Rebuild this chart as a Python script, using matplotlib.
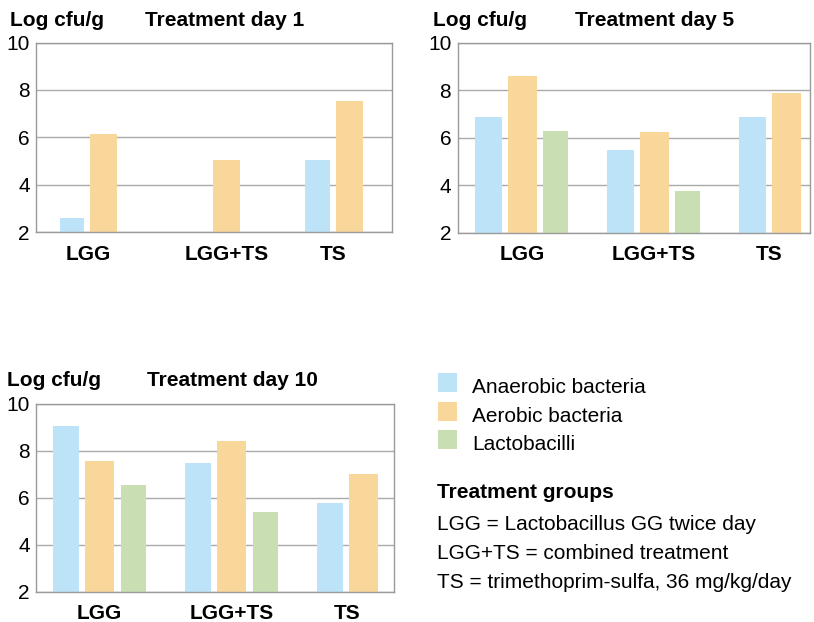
import numpy as np
import matplotlib
matplotlib.use("Agg")
import matplotlib.pyplot as plt
from matplotlib.patches import Rectangle

plt.rcParams['font.family'] = ['Liberation Sans', 'DejaVu Sans']

# data (log cfu/g), nan = no bar
groups = ["LGG", "LGG+TS", "TS"]
series = ["Anaerobic bacteria", "Aerobic bacteria", "Lactobacilli"]
colors = ["#bce3f7", "#f9d699", "#c9dfb3"]

day1_anaerobic = [2.58, np.nan, 5.03]
day1_aerobic = [6.14, 5.03, 7.54]
day1_lacto = [np.nan, np.nan, np.nan]

day5_anaerobic = [6.86, 5.49, 6.88]
day5_aerobic = [8.62, 6.26, 7.90]
day5_lacto = [6.30, 3.76, np.nan]

day10_anaerobic = [9.04, 7.47, 5.77]
day10_aerobic = [7.55, 8.40, 7.00]
day10_lacto = [6.53, 5.39, np.nan]

yticks = [2, 4, 6, 8, 10]
FS = 15

W, H = 814, 622
fig = plt.figure(figsize=(W / 100, H / 100), dpi=100)


def box(l, t, r, b):
    return [l / W, 1 - b / H, (r - l) / W, (b - t) / H]


def px(x, y):
    return x / W, 1 - y / H


def panel(rect, values, xlim, title, title_x, label_pad, title_pos):
    ax = fig.add_axes(rect)
    slot = 0.255
    widths = [0.2, 0.22, 0.19]
    x = np.arange(len(groups))
    centers = []
    for k, (vals, c) in enumerate(zip(values, colors)):
        v = np.array(vals, dtype=float)
        pos = x + (k - 1) * slot
        ok = ~np.isnan(v)
        ax.bar(pos[ok], v[ok] - 2, bottom=2, width=widths[k], color=c, zorder=2)
        centers.append(np.where(ok, pos, np.nan))
    centers = np.array(centers)
    ax.set_xlim(*xlim)
    ax.set_ylim(2, 10)
    ax.set_yticks(yticks)
    ax.set_yticklabels([str(t) for t in yticks], fontsize=FS)
    ax.tick_params(axis='y', length=0, pad=4.5)
    ax.yaxis.grid(True, color="#aaaaaa", linewidth=1.0, zorder=1)
    for s in ax.spines.values():
        s.set_color("#9a9a9a")
        s.set_linewidth(1.0)
    ax.set_xticks(np.nanmean(centers, axis=0))
    ax.set_xticklabels(groups, fontsize=FS, fontweight='bold')
    ax.tick_params(axis='x', length=0, pad=label_pad)
    tx, ty = title_pos
    fig.text(*px(tx, ty), "Log cfu/g", fontsize=FS, fontweight='bold', va='center')
    fig.text(*px(title_x, ty), title, fontsize=FS, fontweight='bold', va='center')
    return ax


panel(box(36, 42.5, 392, 232), [day1_anaerobic, day1_aerobic, day1_lacto],
      (-0.55, 2.35), "Treatment day 1", 145, 9, (10, 20))
panel(box(457.5, 43, 810, 232.5), [day5_anaerobic, day5_aerobic, day5_lacto],
      (-0.49, 2.18), "Treatment day 5", 575, 9, (433, 20))
panel(box(36, 403.5, 394, 591.5), [day10_anaerobic, day10_aerobic, day10_lacto],
      (-0.48, 2.23), "Treatment day 10", 147, 9, (7, 381))

# legend
leg_y = [382.5, 411, 439.5]
for name, c, y in zip(series, colors, leg_y):
    x0, y0 = px(438, y + 9.5)
    fig.add_artist(Rectangle((x0, y0), 19 / W, 19 / H, transform=fig.transFigure,
                             facecolor=c, edgecolor='none'))
    fig.text(*px(472, y + 5), name, fontsize=FS, va='center')

fig.text(*px(437, 493), "Treatment groups", fontsize=FS, fontweight='bold', va='center')
notes = ["LGG = Lactobacillus GG twice day",
         "LGG+TS = combined treatment",
         "TS = trimethoprim-sulfa, 36 mg/kg/day"]
for i, line in enumerate(notes):
    fig.text(*px(437, 525 + i * 28.5), line, fontsize=FS, va='center')

fig.savefig("out.png", dpi=100)
